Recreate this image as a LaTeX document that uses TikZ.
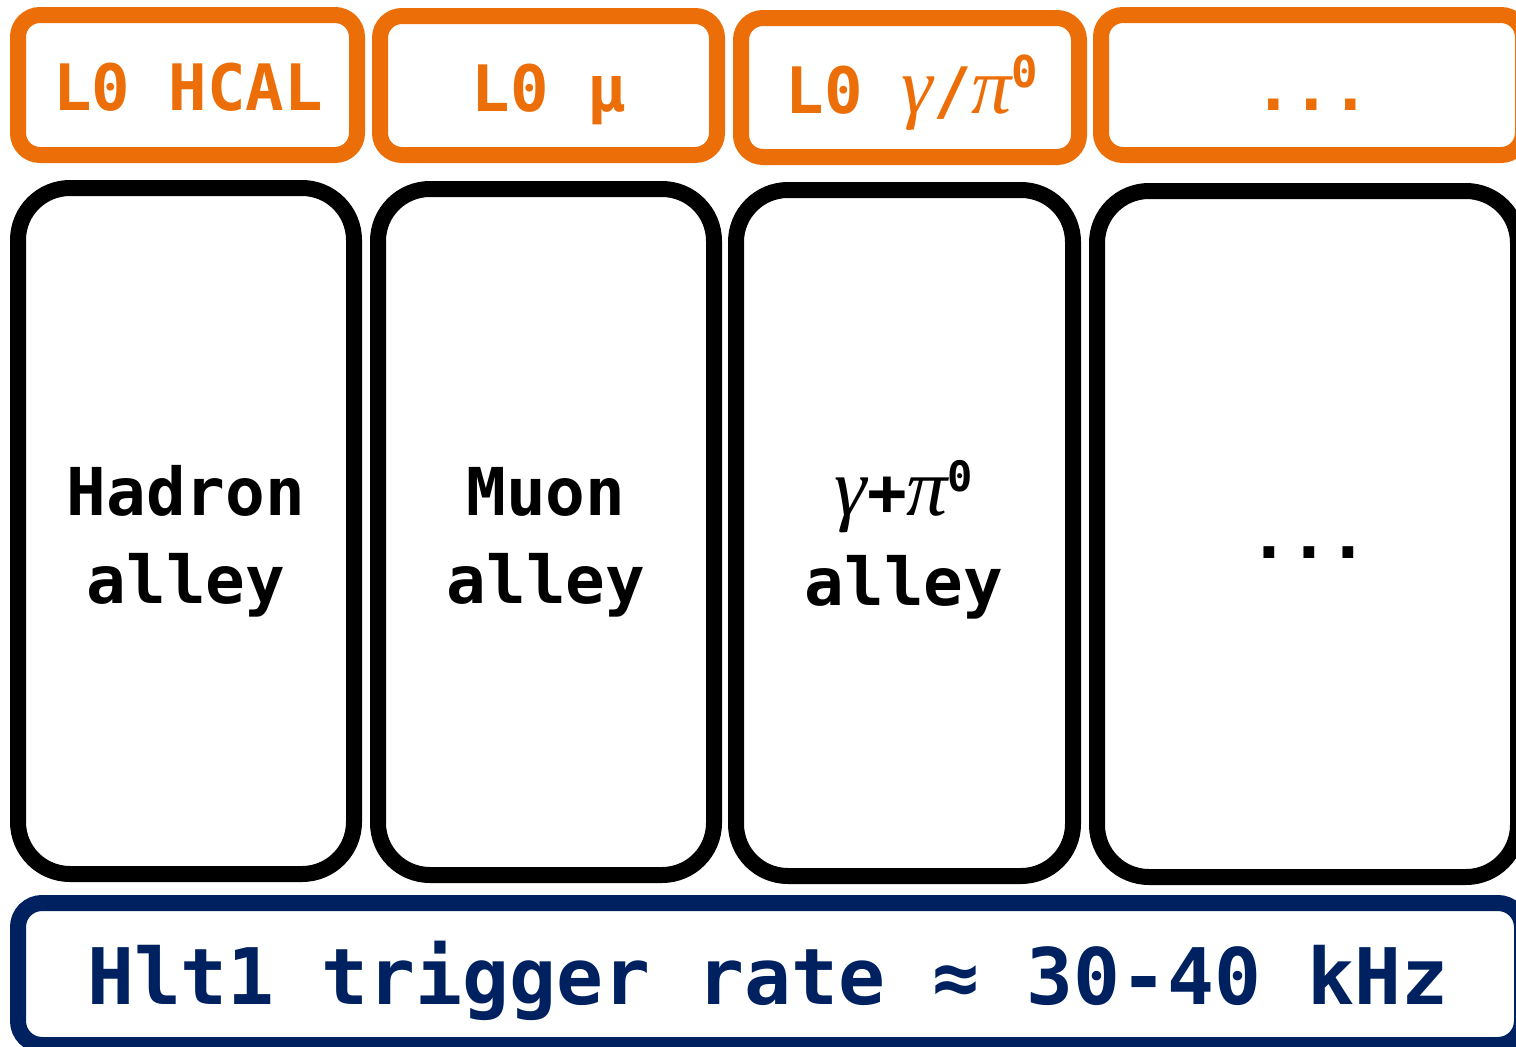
\documentclass[tikz,border=0pt]{standalone}
\usepackage{fontspec}
\newfontfamily\mono{DejaVu Sans Mono}
\newfontfamily\greekit{Liberation Serif}
\definecolor{lzeroorange}{RGB}{235,110,8}
\definecolor{hltblue}{RGB}{0,33,96}
\newcommand{\gk}[2]{{\greekit\itshape\mdseries\fontsize{#1}{#1}\selectfont #2}}
\newcommand{\supzero}[2]{\raisebox{#1pt}{\fontsize{#2}{#2}\selectfont 0}}

\begin{document}
\begin{tikzpicture}[x=1pt,y=-1pt,
  l0box/.style={draw=lzeroorange, line width=16pt, rounded corners=22pt,
    inner sep=0pt, outer sep=0pt},
  alleybox/.style={draw=black, line width=16pt, rounded corners=52pt,
    inner sep=0pt, outer sep=0pt},
  ratebox/.style={draw=hltblue, line width=16pt, rounded corners=24pt,
    inner sep=0pt, outer sep=0pt},
  l0text/.style={text=lzeroorange, anchor=base, inner sep=0pt,
    font=\mono\bfseries\fontsize{64}{64}\selectfont},
  alleytext/.style={text=black, anchor=base, inner sep=0pt,
    font=\mono\bfseries\fontsize{66}{66}\selectfont},
  ratetext/.style={text=hltblue, anchor=base, inner sep=0pt,
    font=\mono\bfseries\fontsize{78}{78}\selectfont}]

\useasboundingbox (0,0) rectangle (1516,1047);
\clip (0,0) rectangle (1516,1047);

% L0 trigger inputs
\node[l0box, minimum width=339pt, minimum height=140pt] (l0had) at (187.5,85) {};
\node[l0box, minimum width=337pt, minimum height=139pt] (l0mu)  at (548.5,85.5) {};
\node[l0box, minimum width=338pt, minimum height=139pt] (l0gam) at (910,87.5) {};
\node[l0box, minimum width=422pt, minimum height=140pt] (l0more) at (1312,85) {};

\node[l0text] (l0hadtxt) at (188,110) {L0 HCAL};
\node[l0text] (l0mutxt)  at (549,111) {L0 μ};
\node[l0text] (l0gamtxt) at (912,113)
  {L0 \gk{80}{γ}/\gk{80}{π}\supzero{26}{44}};
\node[l0text] (l0moretxt) at (1312,110) {...};

% HLT1 alleys
\node[alleybox, minimum width=336pt, minimum height=686pt] (hadalley) at (186,531) {};
\node[alleybox, minimum width=336pt, minimum height=686pt] (mualley)  at (546,532) {};
\node[alleybox, minimum width=337pt, minimum height=686pt] (gamalley) at (904.5,533) {};
\node[alleybox, minimum width=421pt, minimum height=686pt] (morealley) at (1307.5,534) {};

\node[alleytext] (hadl1) at (186,515) {Hadron};
\node[alleytext] (hadl2) at (186,603) {alley};
\node[alleytext] (mul1)  at (546,515) {Muon};
\node[alleytext] (mul2)  at (546,603) {alley};
\node[alleytext] (gaml1) at (904,515)
  {\gk{82}{γ}+\gk{82}{π}\supzero{24}{42}};
\node[alleytext] (gaml2) at (904,605) {alley};
\node[alleytext] (morel1) at (1309,558) {...};

% HLT1 output rate
\node[ratebox, minimum width=1504pt, minimum height=142pt] (rate) at (770,974) {};
\node[ratetext] (ratetxt) at (768,1004) {Hlt1 trigger rate ≈ 30-40 kHz};

\end{tikzpicture}
\end{document}
